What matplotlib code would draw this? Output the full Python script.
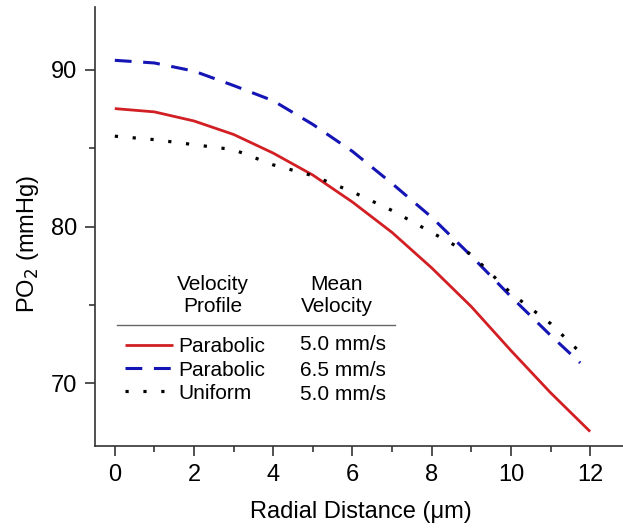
import matplotlib
matplotlib.use("Agg")
import matplotlib.pyplot as plt
from matplotlib.lines import Line2D
import numpy as np

plt.rcParams['font.family'] = ['Liberation Sans', 'DejaVu Sans']

# Data
x_red = [0, 1, 2, 3, 4, 5, 6, 7, 8, 9, 10, 11, 12]
y_red = [87.52, 87.31, 86.73, 85.87, 84.68, 83.28, 81.56, 79.62, 77.36, 74.89, 72.09, 69.40, 66.92]

x_blue = [0, 1, 2, 3, 4, 5, 6, 7, 8, 9, 10, 11, 11.75]
y_blue = [90.60, 90.43, 89.91, 88.99, 88.02, 86.51, 84.79, 82.74, 80.59, 78.12, 75.53, 73.06, 71.30]

x_blk = [0, 1, 2, 3, 4, 5, 6, 7, 8, 9, 10, 11, 11.9]
y_blk = [85.76, 85.54, 85.22, 84.90, 83.93, 83.24, 82.21, 81.02, 79.62, 78.22, 75.75, 73.81, 71.60]

profiles = ["Parabolic", "Parabolic", "Uniform"]
velocities = ["5.0 mm/s", "6.5 mm/s", "5.0 mm/s"]

W, H = 623, 529
fig = plt.figure(figsize=(W/100, H/100), dpi=100)
ax = fig.add_axes([95/W, 1-446/H, (W-95)/W, (446-7)/H])

red = '#d21f24'
blue = '#1515b5'
l1, = ax.plot(x_red, y_red, color=red, lw=2.0, solid_capstyle='butt')
l2, = ax.plot(x_blue, y_blue, color=blue, lw=2.2, dashes=(5.5, 3.8))
l3, = ax.plot(x_blk, y_blk, color='black', lw=2.3, dashes=(1.0, 4.6))

ax.set_xlim(-0.5, 12.83)
ax.set_ylim(66, 94)
ax.spines['top'].set_visible(False)
ax.spines['right'].set_visible(False)
for s in ['left', 'bottom']:
    ax.spines[s].set_color('#333333')
    ax.spines[s].set_linewidth(1.2)

ax.set_xticks([0, 2, 4, 6, 8, 10, 12])
ax.set_xticks([1, 3, 5, 7, 9, 11], minor=True)
ax.set_yticks([70, 80, 90])
ax.set_yticks([75, 85], minor=True)
ax.tick_params(which='major', direction='out', length=7, width=1.2, color='#333333', labelsize=17, pad=6)
ax.tick_params(which='minor', direction='out', length=4, width=1.2, color='#333333')

ax.set_xlabel('Radial Distance (\u03bcm)', fontsize=17, va='center')
ax.set_ylabel('PO$_2$ (mmHg)', fontsize=17, va='center')
ax.xaxis.set_label_coords((361-95)/(W-95), -(512-446)/(446-7))
ax.yaxis.set_label_coords(-(95-28)/(W-95), (446-244)/(446-7))

fs = 15
leg = ax.legend([l1, l2, l3], profiles, loc='center left',
                bbox_to_anchor=(125/W, 1-370/H), bbox_transform=fig.transFigure,
                frameon=False, fontsize=fs, handlelength=2.3, handletextpad=0.25,
                borderpad=0, borderaxespad=0, labelspacing=0.2)

for v, yy in zip(velocities, [345, 370, 395]):
    fig.text(300/W, 1-yy/H, v, fontsize=fs, ha='left', va='center')

fig.text(213/W, 1-296/H, 'Velocity\nProfile', fontsize=fs, ha='center', va='center', linespacing=1.2)
fig.text(337/W, 1-296/H, 'Mean\nVelocity', fontsize=fs, ha='center', va='center', linespacing=1.2)
fig.add_artist(Line2D([117/W, 395/W], [1-325/H, 1-325/H], color='#666666', lw=1.0, transform=fig.transFigure))

fig.savefig('out.png', dpi=100)
